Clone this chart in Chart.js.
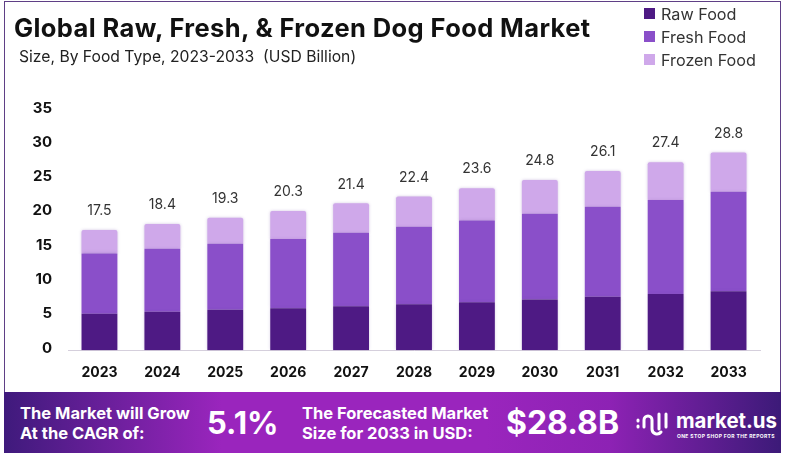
<!DOCTYPE html>
<html>
<head>
<meta charset="utf-8">
<script src="https://cdn.jsdelivr.net/npm/chart.js@4"></script>
<style>
  html, body { margin: 0; padding: 0; background: #fff; }
  #wrap { position: relative; width: 785px; height: 457px; overflow: hidden; font-family: Inter, "Open Sans", sans-serif; }
  #frame { position: absolute; left: 4px; top: 1px; width: 775px; height: 400px; border: 1.5px solid #5f3f86; border-bottom: 0; }
  canvas { position: absolute; left: 0; top: 0; }
  .txt { position: absolute; white-space: nowrap; }
  #title { left: 14px; top: 12px; font-size: 25.5px; font-weight: 700; color: #111; letter-spacing: 0.39px; }
  #subtitle { left: 19px; top: 47px; font-size: 15.7px; color: #222; }
  .leg { position: absolute; left: 645px; font-size: 16.2px; color: #333; white-space: nowrap; }
  .leg i { position: absolute; left: -1px; top: 4px; width: 11px; height: 11px; }
  .leg span { margin-left: 16px; }
  #banner { position: absolute; left: 4px; top: 392px; width: 777px; height: 61px;
    background: linear-gradient(90deg, #3f1a7c 0%, #9a25bd 28%, #9a25bd 62%, #8d22b4 78%, #3c1a78 100%); }
  .b { color: #fff; font-weight: 700; }
  .small { font-size: 16.5px; line-height: 20px; }
  .big { font-size: 31px; }
</style>
</head>
<body>
<div id="wrap">
  <div id="frame"></div>
  <canvas id="chart" width="785" height="457"></canvas>
  <div id="title" class="txt">Global Raw, Fresh, &amp; Frozen Dog Food Market</div>
  <div id="subtitle" class="txt">Size, By Food Type, 2023-2033 &nbsp;(USD Billion)</div>
  <div id="legend"></div>
  <div id="banner"></div>
  <div class="txt b small" style="left:20px;top:403px">The Market will Grow<br>At the CAGR of:</div>
  <div class="txt b big" style="left:207px;top:404px">5.1%</div>
  <div class="txt b small" style="left:302px;top:403px">The Forecasted Market<br>Size for 2033 in USD:</div>
  <div class="txt b big" style="left:506px;top:403px;font-size:32px">$28.8B</div>
  <svg style="position:absolute;left:636px;top:411px" width="38" height="26" viewBox="0 0 38 26" fill="none" stroke="#fff" stroke-width="3" stroke-linecap="round">
    <path d="M2 9v1M2 15v1M8 16V9a4 4 0 0 1 8 0v9a5 5 0 0 0 9 3M23 3v15M30 3v13"/>
  </svg>
  <div class="txt b" style="left:676px;top:408px;font-size:20.4px">market.us</div>
  <div class="txt b" style="left:677px;top:433px;font-size:5px;letter-spacing:.35px">ONE STOP SHOP FOR THE REPORTS</div>
</div>
<script>
const years = ['2023','2024','2025','2026','2027','2028','2029','2030','2031','2032','2033'];
const rawFood = [5.3, 5.6, 5.9, 6.1, 6.4, 6.7, 7.0, 7.4, 7.8, 8.2, 8.6];
const freshFood = [8.8, 9.2, 9.6, 10.1, 10.7, 11.3, 11.9, 12.5, 13.1, 13.7, 14.5];
const frozenFood = [3.4, 3.6, 3.8, 4.1, 4.3, 4.4, 4.7, 4.9, 5.2, 5.5, 5.7];
const totals = ['17.5','18.4','19.3','20.3','21.4','22.4','23.6','24.8','26.1','27.4','28.8'];
const yTicks = [0, 5, 10, 15, 20, 25, 30, 35];
const seriesNames = ['Raw Food', 'Fresh Food', 'Frozen Food'];
const seriesColors = ['#4e1a84', '#8a4fc9', '#cfa8ea'];

// leyenda
const legendTops = [4, 27, 50];
seriesNames.forEach((name, i) => {
  const el = document.createElement('div');
  el.className = 'leg';
  el.style.top = legendTops[i] + 'px';
  el.innerHTML = '<i style="background:' + seriesColors[i] + '"></i><span>' + name + '</span>';
  document.getElementById('legend').appendChild(el);
});

// totales encima de cada barra
const totalLabels = {
  id: 'totalLabels',
  afterDatasetsDraw(chart) {
    const ctx = chart.ctx;
    const top = chart.getDatasetMeta(2).data;
    ctx.save();
    ctx.font = '14px Inter, "Open Sans", sans-serif';
    ctx.fillStyle = '#333';
    ctx.textAlign = 'center';
    ctx.textBaseline = 'middle';
    top.forEach((bar, i) => ctx.fillText(totals[i], bar.x, bar.y - 19));
    ctx.restore();
  }
};

// sombra suave de las barras
const barGlow = {
  id: 'barGlow',
  beforeDatasetsDraw(chart) {
    chart.ctx.save();
    chart.ctx.shadowColor = 'rgba(120,80,170,0.35)';
    chart.ctx.shadowBlur = 3;
  },
  afterDatasetsDraw(chart) {
    chart.ctx.restore();
  }
};

new Chart(document.getElementById('chart').getContext('2d'), {
  type: 'bar',
  data: {
    labels: years,
    datasets: [
      { label: seriesNames[0], data: rawFood, backgroundColor: seriesColors[0] },
      { label: seriesNames[1], data: freshFood, backgroundColor: seriesColors[1] },
      { label: seriesNames[2], data: frozenFood, backgroundColor: seriesColors[2], borderRadius: { topLeft: 2, topRight: 2 } }
    ]
  },
  options: {
    responsive: false,
    animation: false,
    layout: { padding: { left: 0, right: 25, top: 110, bottom: 62 } },
    datasets: { bar: { barPercentage: 0.57, categoryPercentage: 1 } },
    plugins: {
      legend: { display: false },
      title: { display: false },
      tooltip: { enabled: false }
    },
    scales: {
      x: {
        stacked: true,
        grid: { display: false, drawTicks: false },
        border: { color: '#d5cfdc' },
        ticks: { color: '#111', padding: 14, maxRotation: 0, font: { family: 'Inter', size: 14, weight: '700' } }
      },
      y: {
        stacked: true,
        min: 0,
        max: 35,
        afterBuildTicks(axis) { axis.ticks = yTicks.map(v => ({ value: v })); },
        afterFit(axis) { axis.width = 68; },
        grid: { display: false, drawTicks: false },
        border: { display: false },
        ticks: { color: '#111', padding: 16, labelOffset: -2, font: { family: 'Inter', size: 15, weight: '700' } }
      }
    }
  },
  plugins: [barGlow, totalLabels]
});
</script>
</body>
</html>
